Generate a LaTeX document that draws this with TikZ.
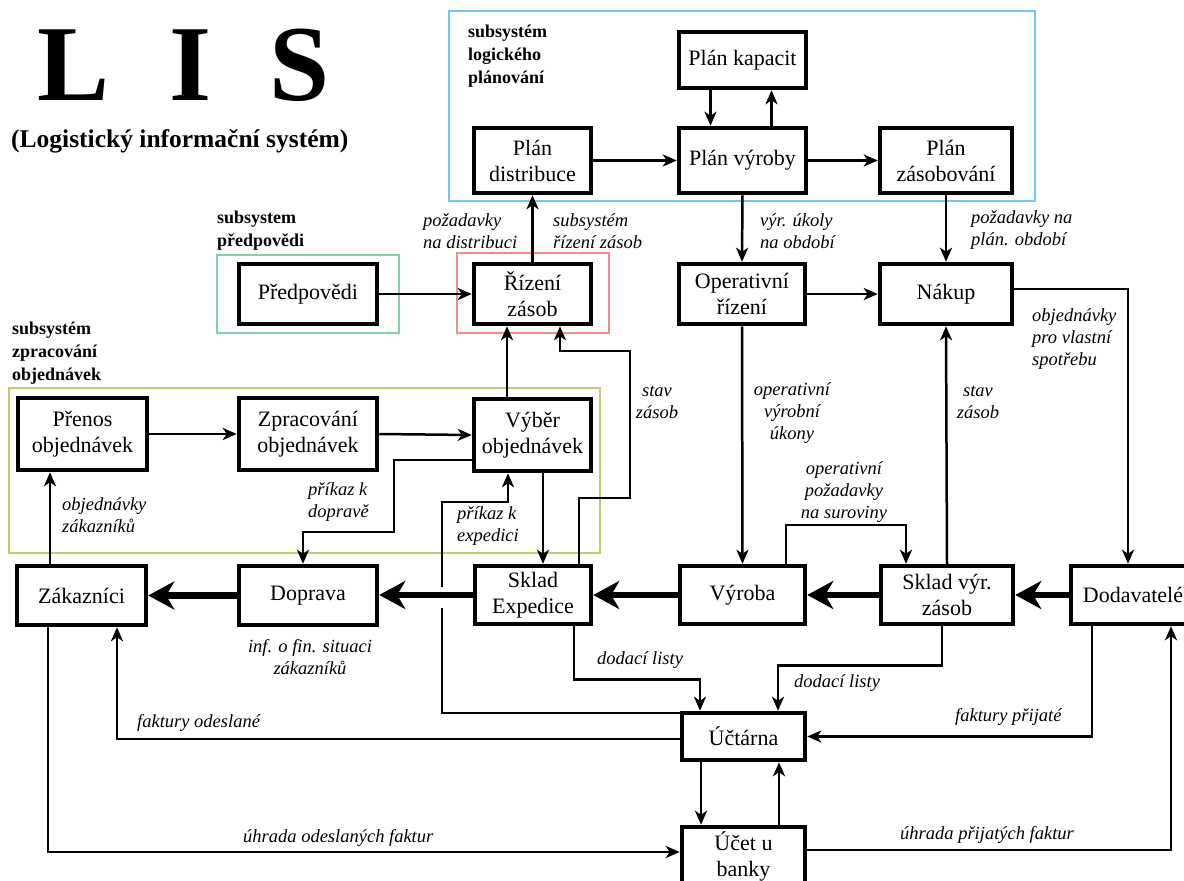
\documentclass[tikz,border=0pt]{standalone}
\usepackage{fontspec}
\setmainfont{Liberation Serif}
\usetikzlibrary{arrows.meta,calc}

\definecolor{frameblue}{RGB}{110,200,240}
\definecolor{framered}{RGB}{240,140,140}
\definecolor{framegreen}{RGB}{130,210,170}
\definecolor{frameolive}{RGB}{200,200,110}

\begin{document}
\begin{tikzpicture}[x=1pt,y=-1pt,
  blk/.style={draw,line width=4.5pt,fill=white,inner sep=0pt,align=center,
    font=\fontsize{22}{26}\selectfont},
  lnk/.style={line width=2.5pt,-{Stealth[length=14pt,width=12pt,inset=4pt]}},
  thk/.style={line width=6.5pt,-{Stealth[length=26pt,width=28pt,inset=8pt]}},
  lbl/.style={font=\fontsize{18.5}{22}\selectfont\itshape,inner sep=0pt},
  grp/.style={font=\fontsize{18}{23}\selectfont\bfseries,inner sep=0pt,align=left,anchor=west},
  frm/.style={line width=1.5pt}]

\useasboundingbox (0,0) rectangle (1184,881);

% title
\node[font=\fontsize{108}{110}\selectfont\bfseries,anchor=base,inner sep=0pt] (tL) at (74,100) {L};
\node[font=\fontsize{108}{110}\selectfont\bfseries,anchor=base,inner sep=0pt] (tI) at (191,100) {I};
\node[font=\fontsize{108}{110}\selectfont\bfseries,anchor=base,inner sep=0pt] (tS) at (300,100) {S};
\node[font=\fontsize{25.5}{28}\selectfont\bfseries,anchor=base west,inner sep=0pt] (sub) at (11,147)
  {(Logistický informační systém)};

% subsystem frames
\draw[frm,frameblue]  (449,11)  rectangle (1035,201);
\draw[frm,framered]   (457,253) rectangle (609,333);
\draw[frm,framegreen] (217,255) rectangle (399,333);
\draw[frm,frameolive] (9,388)   rectangle (600,553);

% subsystem captions
\node[grp] (gLog) at (468,56) {subsystém\\logického\\plánování};
\node[grp] (gPre) at (217,231) {subsystem\\předpovědi};
\node[grp] (gObj) at (12,353) {subsystém\\zpracování\\objednávek};

% blocks
\node[blk,minimum width=127pt,minimum height=56pt] (kap) at (742.5,60) {Plán kapacit};
\node[blk,minimum width=127pt,minimum height=65pt] (vyr) at (742.5,160.5) {Plán výroby};
\node[blk,minimum width=117pt,minimum height=65pt] (dist) at (532.5,160.5) {Plán\\distribuce};
\node[blk,minimum width=132pt,minimum height=65pt] (zas) at (946,160.5) {Plán\\zásobování};
\node[blk,minimum width=117pt,minimum height=60pt] (riz) at (532.5,294) {Řízení\\zásob};
\node[blk,minimum width=126pt,minimum height=60pt] (opr) at (742,294) {Operativní\\řízení};
\node[blk,minimum width=132pt,minimum height=60pt] (nak) at (946,294) {Nákup};
\node[blk,minimum width=138pt,minimum height=60pt] (pred) at (308,294) {Předpovědi};
\node[blk,minimum width=129pt,minimum height=72pt] (pren) at (82.5,434) {Přenos\\objednávek};
\node[blk,minimum width=138pt,minimum height=72pt] (zprac) at (308,434) {Zpracování\\objednávek};
\node[blk,minimum width=117pt,minimum height=72pt] (vyber) at (532.5,435) {Výběr\\objednávek};
\node[blk,minimum width=129pt,minimum height=59pt] (zak) at (81.5,595.5) {Zákazníci};
\node[blk,minimum width=138pt,minimum height=59pt] (dopr) at (308,595.5) {Doprava};
\node[blk,minimum width=116pt,minimum height=58pt] (skexp) at (533,595) {Sklad\\Expedice};
\node[blk,minimum width=125pt,minimum height=58pt] (vyroba) at (742.5,595) {Výroba};
\node[blk,minimum width=132pt,minimum height=58pt] (skvyr) at (947,595) {Sklad výr.\\zásob};
\node[blk,minimum width=124pt,minimum height=58pt] (dod) at (1133,595) {Dodavatelé};
\node[blk,minimum width=123pt,minimum height=47pt] (uct) at (743.5,736.5) {Účtárna};
\node[blk,minimum width=123pt,minimum height=65pt,text depth=11pt] (ucet) at (743.5,859.5) {Účet u\\banky};

% planning subsystem links
\draw[lnk] ([xshift=-32pt]kap.south) -- ([xshift=-32pt]vyr.north);
\draw[lnk] ([xshift=29pt]vyr.north) -- ([xshift=29pt]kap.south);
\draw[lnk] (dist.east) -- (vyr.west);
\draw[lnk] (vyr.east) -- (zas.west);
\draw[lnk] (riz.north) -- (dist.south);
\draw[lnk] (vyr.south) -- (opr.north);
\draw[lnk] (zas.south) -- (nak.north);
\draw[lnk] (pred.east) -- (riz.west);
\draw[lnk] (opr.east) -- (nak.west);
\draw[lnk] ([yshift=5pt]nak.east) -| ([xshift=-5pt]dod.north);
\draw[lnk] (opr.south) -- (vyroba.north);
\draw[lnk] ([xshift=43.5pt]vyroba.north) -- ++(0,-39) -| ([xshift=-41pt]skvyr.north);
\draw[lnk] (skvyr.north) -- (nak.south);

% order processing links
\draw[lnk] ([xshift=-31.5pt]zak.north) -- ([xshift=-31.5pt]zak.north |- pren.south);
\draw[lnk] (pren.east) -- (zprac.west);
\draw[lnk] (zprac.east) -- (vyber.west);
\draw[lnk] ([xshift=-25.5pt]vyber.north) -- ([xshift=-25.5pt]riz.south);
\draw[lnk] ([xshift=46pt]skexp.north) -- ++(0,-66) -- ++(51,0) -- ++(0,-147) -| ([xshift=27.5pt]riz.south);
\draw[lnk] ([xshift=10.5pt]vyber.south) -- ([xshift=10.5pt]vyber.south |- skexp.north);
\draw[lnk] ([yshift=-25pt]vyber.west) -- ++(-78,0) -- ++(0,72) -| ([xshift=-5pt]dopr.north);
\draw[lnk] ([yshift=-2pt]uct.north west) -- ++(-238,0) -- ++(0,-211) -| ([xshift=-24.5pt]vyber.south);

% accounting links
\draw[lnk] ([xshift=-41pt]dod.south) |- (uct.east);
\draw[lnk] ([yshift=9.5pt]ucet.east) -| ([xshift=38pt]dod.south);
\draw[lnk] ([xshift=-5pt]skvyr.south) -- ++(0,39) -| ([xshift=34.5pt]uct.north);
\draw[lnk] ([xshift=41pt]skexp.south) -- ++(0,53) -| ([xshift=-43.5pt]uct.north);
\draw[lnk] ([xshift=-42.5pt]uct.south) -- ([xshift=-42.5pt]ucet.north);
\draw[lnk] ([xshift=35.5pt]ucet.north) -- ([xshift=35.5pt]uct.south);
\draw[lnk] ([yshift=-2.5pt]uct.west) -| ([xshift=35.5pt]zak.south);
\draw[lnk] ([xshift=-33.5pt]zak.south) |- ([yshift=7.5pt]ucet.west);

% gap where the order line passes under the goods flow
\fill[white] (439,587) rectangle (449,608);

% material flow
\draw[thk] (dod.west) -- (dod.west -| skvyr.east);
\draw[thk] (skvyr.west) -- (skvyr.west -| vyroba.east);
\draw[thk] (vyroba.west) -- (vyroba.west -| skexp.east);
\draw[thk] (skexp.west) -- (skexp.west -| dopr.east);
\draw[thk] (dopr.west) -- (dopr.west -| zak.east);

% flow labels
\node[lbl,align=left,anchor=west] (l1) at (423,231) {požadavky\\na distribuci};
\node[lbl,align=left,anchor=west] (l2) at (553,231) {subsystém\\řízení zásob};
\node[lbl,align=left,anchor=west] (l3) at (760,231) {výr. úkoly\\na období};
\node[lbl,align=left,anchor=west] (l4) at (971,230) {požadavky na\\plán. období};
\node[lbl,align=left,anchor=west] (l5) at (1032,339) {objednávky\\pro vlastní\\spotřebu};
\node[lbl,align=center] (l6) at (657,402.5) {stav\\zásob};
\node[lbl,align=center] (l7) at (792,413.5) {operativní\\výrobní\\úkony};
\node[lbl,align=center] (l8) at (978,402.5) {stav\\zásob};
\node[lbl,align=center] (l9) at (844,492.5) {operativní\\požadavky\\na suroviny};
\node[lbl,align=left,anchor=west] (l10) at (62,515.5) {objednávky\\zákazníků};
\node[lbl,align=left,anchor=west] (l11) at (308,502.5) {příkaz k\\dopravě};
\node[lbl,align=left,anchor=west] (l12) at (457,526) {příkaz k\\expedici};
\node[lbl,align=center] (l13) at (310,657.5) {inf. o fin. situaci\\zákazníků};
\node[lbl,anchor=west] (l14) at (597,660) {dodací listy};
\node[lbl,anchor=west] (l15) at (794,683) {dodací listy};
\node[lbl,anchor=west] (l16) at (137,723) {faktury odeslané};
\node[lbl,anchor=west] (l17) at (955,717) {faktury přijaté};
\node[lbl,anchor=west] (l18) at (243,838) {úhrada odeslaných faktur};
\node[lbl,anchor=west] (l19) at (900,835) {úhrada přijatých faktur};

\end{tikzpicture}
\end{document}
